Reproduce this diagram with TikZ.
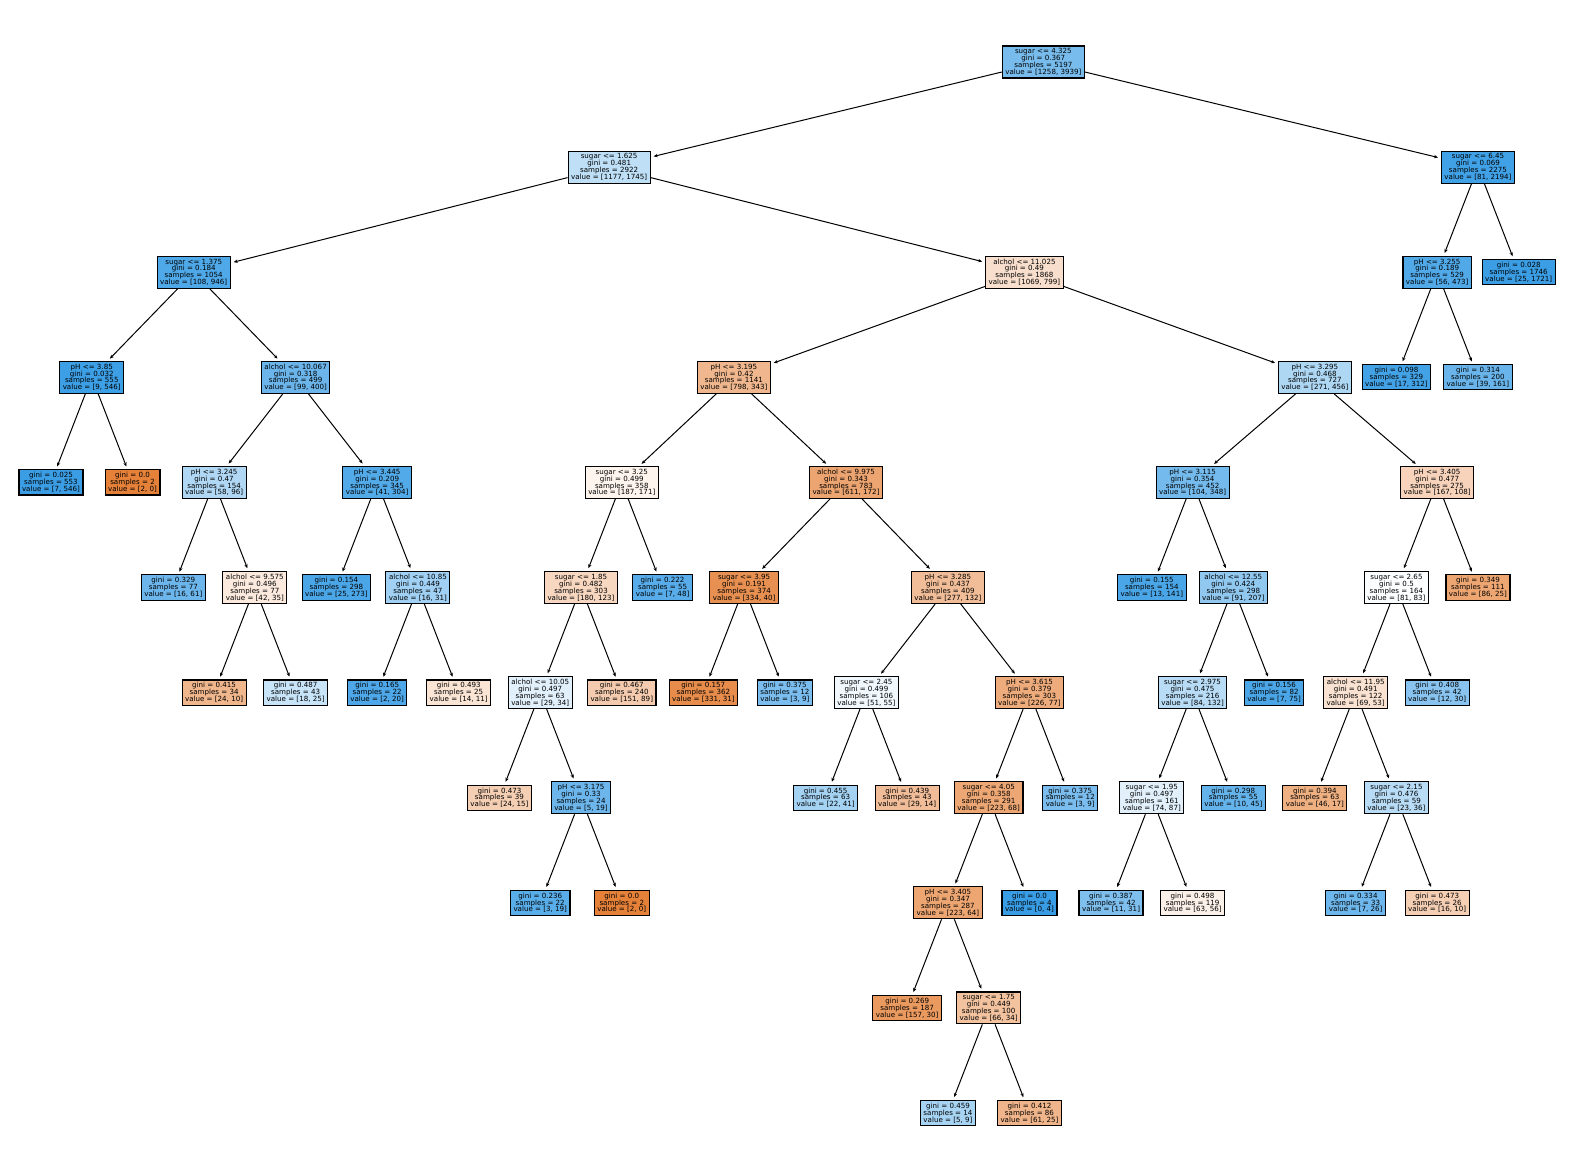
\documentclass[tikz,border=0pt]{standalone}
\usepackage{fontspec}
\setmainfont{DejaVu Sans}
\usetikzlibrary{arrows.meta}
\definecolor{cO}{RGB}{229,129,57}
\definecolor{cB}{RGB}{57,157,229}
\newcommand{\treefont}{\fontsize{7.1pt}{6.9pt}\selectfont\lineskiplimit=-5pt\relax}
\tikzset{
  tnode/.style={draw=black, line width=1.1pt, rectangle, inner xsep=3pt, inner ysep=2.5pt,
    align=center, text=black, font=\treefont},
  tedge/.style={-{Stealth[length=4pt,width=3.4pt]}, line width=1pt, shorten >=3pt},
}
\newcommand{\spl}[5]{#1\\gini = #2\\samples = #3\\value = [#4, #5]}
\newcommand{\lf}[4]{gini = #1\\samples = #2\\value = [#3, #4]}
\begin{document}
\begin{tikzpicture}
\useasboundingbox (0pt,0pt) rectangle (1570pt,-1175pt);
\begin{scope}[shift={(51pt,-62pt)}, x=40.77pt, y=-105.1pt]
\node[tnode, fill=cB!68!white] (n0) at (24.34,0) {\spl{sugar <= 4.325}{0.367}{5197}{1258}{3939}};
\node[tnode, fill=cB!33!white] (n1) at (13.69,1) {\spl{sugar <= 1.625}{0.481}{2922}{1177}{1745}};
\node[tnode, fill=cB!96!white] (n2) at (35,1) {\spl{sugar <= 6.45}{0.069}{2275}{81}{2194}};
\node[tnode, fill=cB!89!white] (n3) at (3.5,2) {\spl{sugar <= 1.375}{0.184}{1054}{108}{946}};
\node[tnode, fill=cO!25!white] (n4) at (23.875,2) {\spl{alchol <= 11.025}{0.49}{1868}{1069}{799}};
\node[tnode, fill=cB!88!white] (n5) at (34,2) {\spl{pH <= 3.255}{0.189}{529}{56}{473}};
\node[tnode, fill=cB!99!white] (n6) at (36,2) {\lf{0.028}{1746}{25}{1721}};
\node[tnode, fill=cB!98!white] (n7) at (1,3) {\spl{pH <= 3.85}{0.032}{555}{9}{546}};
\node[tnode, fill=cB!75!white] (n8) at (6,3) {\spl{alchol <= 10.067}{0.318}{499}{99}{400}};
\node[tnode, fill=cO!57!white] (n9) at (16.75,3) {\spl{pH <= 3.195}{0.42}{1141}{798}{343}};
\node[tnode, fill=cB!41!white] (n10) at (31,3) {\spl{pH <= 3.295}{0.468}{727}{271}{456}};
\node[tnode, fill=cB!95!white] (n11) at (33,3) {\lf{0.098}{329}{17}{312}};
\node[tnode, fill=cB!76!white] (n12) at (35,3) {\lf{0.314}{200}{39}{161}};
\node[tnode, fill=cB!99!white] (n13) at (0,4) {\lf{0.025}{553}{7}{546}};
\node[tnode, fill=cO] (n14) at (2,4) {\lf{0.0}{2}{2}{0}};
\node[tnode, fill=cB!40!white] (n15) at (4,4) {\spl{pH <= 3.245}{0.47}{154}{58}{96}};
\node[tnode, fill=cB!87!white] (n16) at (8,4) {\spl{pH <= 3.445}{0.209}{345}{41}{304}};
\node[tnode, fill=cO!9!white] (n17) at (14,4) {\spl{sugar <= 3.25}{0.499}{358}{187}{171}};
\node[tnode, fill=cO!72!white] (n18) at (19.5,4) {\spl{alchol <= 9.975}{0.343}{783}{611}{172}};
\node[tnode, fill=cB!70!white] (n19) at (28,4) {\spl{pH <= 3.115}{0.354}{452}{104}{348}};
\node[tnode, fill=cO!35!white] (n20) at (34,4) {\spl{pH <= 3.405}{0.477}{275}{167}{108}};
\node[tnode, fill=cB!74!white] (n21) at (3,5) {\lf{0.329}{77}{16}{61}};
\node[tnode, fill=cO!17!white] (n22) at (5,5) {\spl{alchol <= 9.575}{0.496}{77}{42}{35}};
\node[tnode, fill=cB!91!white] (n23) at (7,5) {\lf{0.154}{298}{25}{273}};
\node[tnode, fill=cB!48!white] (n24) at (9,5) {\spl{alchol <= 10.85}{0.449}{47}{16}{31}};
\node[tnode, fill=cO!32!white] (n25) at (13,5) {\spl{sugar <= 1.85}{0.482}{303}{180}{123}};
\node[tnode, fill=cB!85!white] (n26) at (15,5) {\lf{0.222}{55}{7}{48}};
\node[tnode, fill=cO!88!white] (n27) at (17,5) {\spl{sugar <= 3.95}{0.191}{374}{334}{40}};
\node[tnode, fill=cO!52!white] (n28) at (22,5) {\spl{pH <= 3.285}{0.437}{409}{277}{132}};
\node[tnode, fill=cB!91!white] (n29) at (27,5) {\lf{0.155}{154}{13}{141}};
\node[tnode, fill=cB!56!white] (n30) at (29,5) {\spl{alchol <= 12.55}{0.424}{298}{91}{207}};
\node[tnode, fill=cB!2!white] (n31) at (33,5) {\spl{sugar <= 2.65}{0.5}{164}{81}{83}};
\node[tnode, fill=cO!71!white] (n32) at (35,5) {\lf{0.349}{111}{86}{25}};
\node[tnode, fill=cO!58!white] (n33) at (4,6) {\lf{0.415}{34}{24}{10}};
\node[tnode, fill=cB!28!white] (n34) at (6,6) {\lf{0.487}{43}{18}{25}};
\node[tnode, fill=cB!90!white] (n35) at (8,6) {\lf{0.165}{22}{2}{20}};
\node[tnode, fill=cO!21!white] (n36) at (10,6) {\lf{0.493}{25}{14}{11}};
\node[tnode, fill=cB!15!white] (n37) at (12,6) {\spl{alchol <= 10.05}{0.497}{63}{29}{34}};
\node[tnode, fill=cO!41!white] (n38) at (14,6) {\lf{0.467}{240}{151}{89}};
\node[tnode, fill=cO!91!white] (n39) at (16,6) {\lf{0.157}{362}{331}{31}};
\node[tnode, fill=cB!67!white] (n40) at (18,6) {\lf{0.375}{12}{3}{9}};
\node[tnode, fill=cB!7!white] (n41) at (20,6) {\spl{sugar <= 2.45}{0.499}{106}{51}{55}};
\node[tnode, fill=cO!66!white] (n42) at (24,6) {\spl{pH <= 3.615}{0.379}{303}{226}{77}};
\node[tnode, fill=cB!36!white] (n43) at (28,6) {\spl{sugar <= 2.975}{0.475}{216}{84}{132}};
\node[tnode, fill=cB!91!white] (n44) at (30,6) {\lf{0.156}{82}{7}{75}};
\node[tnode, fill=cO!23!white] (n45) at (32,6) {\spl{alchol <= 11.95}{0.491}{122}{69}{53}};
\node[tnode, fill=cB!60!white] (n46) at (34,6) {\lf{0.408}{42}{12}{30}};
\node[tnode, fill=cO!38!white] (n47) at (11,7) {\lf{0.473}{39}{24}{15}};
\node[tnode, fill=cB!74!white] (n48) at (13,7) {\spl{pH <= 3.175}{0.33}{24}{5}{19}};
\node[tnode, fill=cB!46!white] (n49) at (19,7) {\lf{0.455}{63}{22}{41}};
\node[tnode, fill=cO!52!white] (n50) at (21,7) {\lf{0.439}{43}{29}{14}};
\node[tnode, fill=cO!70!white] (n51) at (23,7) {\spl{sugar <= 4.05}{0.358}{291}{223}{68}};
\node[tnode, fill=cB!67!white] (n52) at (25,7) {\lf{0.375}{12}{3}{9}};
\node[tnode, fill=cB!15!white] (n53) at (27,7) {\spl{sugar <= 1.95}{0.497}{161}{74}{87}};
\node[tnode, fill=cB!78!white] (n54) at (29,7) {\lf{0.298}{55}{10}{45}};
\node[tnode, fill=cO!63!white] (n55) at (31,7) {\lf{0.394}{63}{46}{17}};
\node[tnode, fill=cB!36!white] (n56) at (33,7) {\spl{sugar <= 2.15}{0.476}{59}{23}{36}};
\node[tnode, fill=cB!84!white] (n57) at (12,8) {\lf{0.236}{22}{3}{19}};
\node[tnode, fill=cO] (n58) at (14,8) {\lf{0.0}{2}{2}{0}};
\node[tnode, fill=cO!71!white] (n59) at (22,8) {\spl{pH <= 3.405}{0.347}{287}{223}{64}};
\node[tnode, fill=cB] (n60) at (24,8) {\lf{0.0}{4}{0}{4}};
\node[tnode, fill=cB!65!white] (n61) at (26,8) {\lf{0.387}{42}{11}{31}};
\node[tnode, fill=cO!11!white] (n62) at (28,8) {\lf{0.498}{119}{63}{56}};
\node[tnode, fill=cB!73!white] (n63) at (32,8) {\lf{0.334}{33}{7}{26}};
\node[tnode, fill=cO!38!white] (n64) at (34,8) {\lf{0.473}{26}{16}{10}};
\node[tnode, fill=cO!81!white] (n65) at (21,9) {\lf{0.269}{187}{157}{30}};
\node[tnode, fill=cO!48!white] (n66) at (23,9) {\spl{sugar <= 1.75}{0.449}{100}{66}{34}};
\node[tnode, fill=cB!44!white] (n67) at (22,10) {\lf{0.459}{14}{5}{9}};
\node[tnode, fill=cO!59!white] (n68) at (24,10) {\lf{0.412}{86}{61}{25}};
\end{scope}
\foreach \p/\c in {n0/n1,n0/n2,n1/n3,n1/n4,n2/n5,n2/n6,n3/n7,n3/n8,n4/n9,n4/n10,n5/n11,n5/n12,
  n7/n13,n7/n14,n8/n15,n8/n16,n9/n17,n9/n18,n10/n19,n10/n20,n15/n21,n15/n22,n16/n23,n16/n24,
  n17/n25,n17/n26,n18/n27,n18/n28,n19/n29,n19/n30,n20/n31,n20/n32,n22/n33,n22/n34,n24/n35,n24/n36,
  n25/n37,n25/n38,n27/n39,n27/n40,n28/n41,n28/n42,n30/n43,n30/n44,n31/n45,n31/n46,n37/n47,n37/n48,
  n41/n49,n41/n50,n42/n51,n42/n52,n43/n53,n43/n54,n45/n55,n45/n56,n48/n57,n48/n58,n51/n59,n51/n60,
  n53/n61,n53/n62,n56/n63,n56/n64,n59/n65,n59/n66,n66/n67,n66/n68}
  \draw[tedge] (\p) -- (\c);
\end{tikzpicture}
\end{document}
